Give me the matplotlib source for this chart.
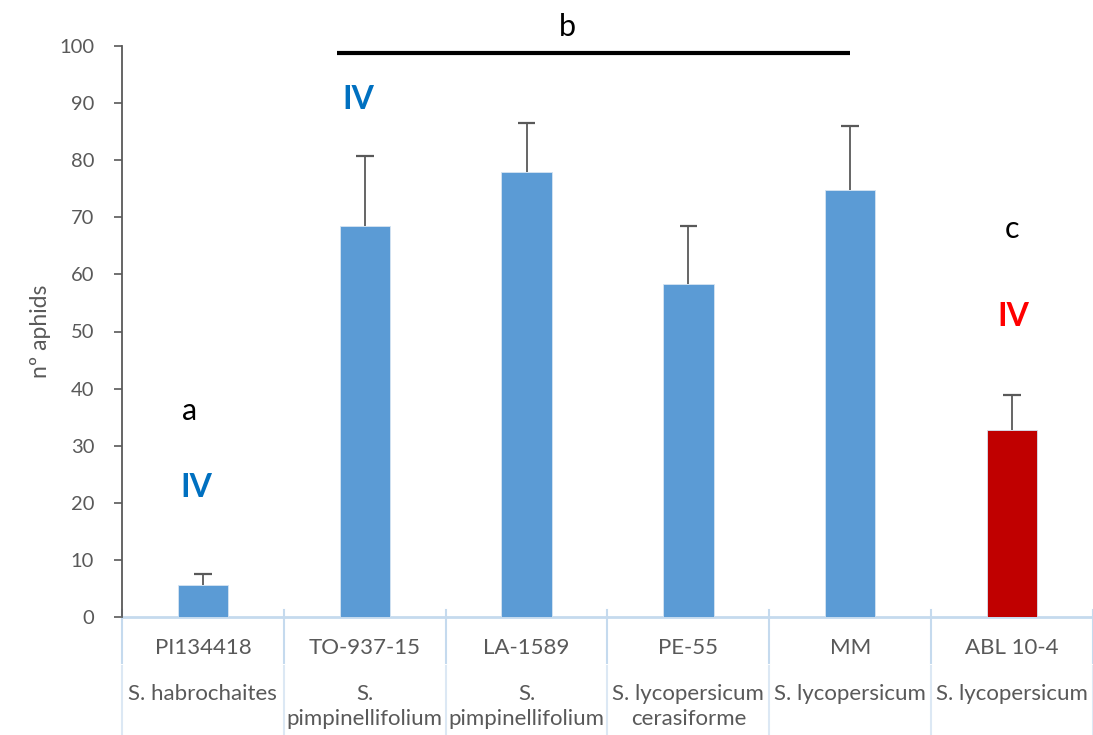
import matplotlib.pyplot as plt
import matplotlib.transforms as mtransforms

# data
accessions = ["PI134418", "TO-937-15", "LA-1589", "PE-55", "MM", "ABL 10-4"]
species = ["S. habrochaites", "S.\npimpinellifolium", "S.\npimpinellifolium",
           "S. lycopersicum\ncerasiforme", "S. lycopersicum", "S. lycopersicum"]
means = [5.6, 68.5, 78.0, 58.3, 74.7, 32.7]
errors = [1.9, 12.2, 8.6, 10.2, 11.3, 6.2]
bar_colors = ["#5B9BD5", "#5B9BD5", "#5B9BD5", "#5B9BD5", "#5B9BD5", "#C00000"]

# significance letters and "IV" marks
letters = ["a", "b", "c"]
letter_x = [-0.08, 2.25, 5.0]
letter_y = [36.0, 103.3, 68.0]
iv_x = [-0.04, 0.96, 5.01]
iv_y = [22.6, 90.7, 52.7]
iv_colors = ["#0070C0", "#0070C0", "#FF0000"]
bracket_x = [0.83, 4.0]
bracket_y = 98.8

plt.rcParams["font.family"] = ["Lato", "DejaVu Sans"]

fig = plt.figure(figsize=(10.93, 7.35), dpi=100)
ax = fig.add_axes([122 / 1093, 1 - 617 / 735, 1 - 122 / 1093, 571 / 735])

x = list(range(len(accessions)))
ax.bar(x, means, width=0.31, color=bar_colors, edgecolor="#D6E4F2",
       linewidth=0.6, zorder=2)

# upper-only error bars with a cap
tops = [m + e for m, e in zip(means, errors)]
ax.vlines(x, means, tops, color="#595959", lw=1.3, zorder=3)
ax.hlines(tops, [xi - 0.055 for xi in x], [xi + 0.055 for xi in x],
          color="#595959", lw=1.6, zorder=3)

ax.set_xlim(-0.5, 5.5)
ax.set_ylim(0, 100)
ax.set_yticks(range(0, 101, 10))
ax.tick_params(axis="y", direction="out", length=6, width=1.2,
               colors="#595959", labelsize=14.5, pad=14)
ax.set_xticks([])
ax.set_ylabel("nº aphids", fontsize=16.5, color="#595959", labelpad=6)

for side in ["top", "right", "bottom"]:
    ax.spines[side].set_visible(False)
ax.spines["left"].set_color("#595959")
ax.spines["left"].set_linewidth(1.3)

# Excel-style multi-level category axis
trans = mtransforms.blended_transform_factory(ax.transData, ax.transAxes)
line_col = "#C5DAEE"
ax.plot([-0.5, 5.5], [0, 0], transform=trans, color=line_col, lw=2,
        clip_on=False, zorder=1)
for b in [i - 0.5 for i in range(len(accessions) + 1)]:
    ax.plot([b, b], [0.012, -0.08], transform=trans, color=line_col, lw=1.5,
            clip_on=False)
    ax.plot([b, b], [-0.085, -0.21], transform=trans, color="#DCE8F4", lw=1.5,
            clip_on=False)
for xi, acc, sp in zip(x, accessions, species):
    ax.text(xi, -0.054, acc, transform=trans, ha="center", va="center",
            fontsize=16, color="#595959")
    ax.text(xi, -0.117, sp, transform=trans, ha="center", va="top",
            fontsize=16, color="#595959", linespacing=1.3)

# annotations
for lx, ly, s in zip(letter_x, letter_y, letters):
    ax.text(lx, ly, s, ha="center", va="center", fontsize=22, color="black",
            clip_on=False)
for ix, iy, c in zip(iv_x, iv_y, iv_colors):
    ax.text(ix, iy, "IV", ha="center", va="center", fontsize=23,
            fontweight="bold", color=c)
ax.plot(bracket_x, [bracket_y, bracket_y], color="black", lw=3,
        solid_capstyle="butt", clip_on=False)

fig.savefig("out.png", dpi=100)
